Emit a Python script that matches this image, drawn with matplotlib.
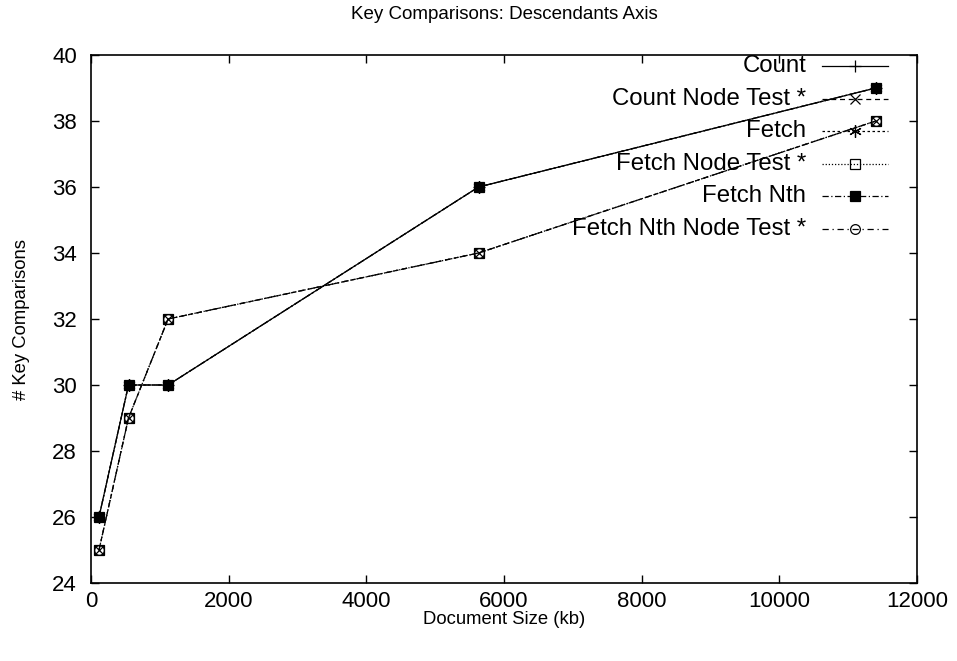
import matplotlib
matplotlib.use("Agg")
import matplotlib.pyplot as plt

plt.rcParams['font.family'] = ['Liberation Sans', 'DejaVu Sans']

# document sizes (kb) and key comparison counts
doc_size = [116, 545, 1120, 5630, 11400]
count = [26, 30, 30, 36, 39]
count_node_test = [25, 29, 32, 34, 38]
fetch = [26, 30, 30, 36, 39]
fetch_node_test = [25, 29, 32, 34, 38]
fetch_nth = [26, 30, 30, 36, 39]
fetch_nth_node_test = [25, 29, 32, 34, 38]

labels = ['Count', 'Count Node Test *', 'Fetch', 'Fetch Node Test *',
          'Fetch Nth', 'Fetch Nth Node Test *']
series = [count, count_node_test, fetch, fetch_node_test,
          fetch_nth, fetch_nth_node_test]

# gnuplot-ish line / point types
styles = [
    dict(ls='-', marker='+', mfc='none', ms=9),
    dict(ls=(0, (4, 3)), marker='x', mfc='none', ms=7),
    dict(ls=(0, (2, 2)), marker=(6, 2, 0), mfc='none', ms=9),
    dict(ls=(0, (1, 1.5)), marker='s', mfc='none', ms=7),
    dict(ls=(0, (5, 2, 1, 2)), marker='s', mfc='black', ms=7),
    dict(ls=(0, (5, 3, 1, 3)), marker='o', mfc='none', ms=7),
]

fig = plt.figure(figsize=(9.57, 6.61), dpi=100)
ax = fig.add_axes([91 / 957, 1 - 583 / 661, 826 / 957, 528 / 661])

for y, lab, st in zip(series, labels, styles):
    ax.plot(doc_size, y, color='black', lw=0.9, mew=0.9, label=lab, **st)

ax.set_xlim(0, 12000)
ax.set_ylim(24, 40)
ax.set_xticks(range(0, 12001, 2000))
ax.set_yticks(range(24, 41, 2))
ax.tick_params(direction='in', length=6, width=1, top=True, right=True,
               labelsize=16)
ax.tick_params(axis='y', pad=10)
ax.tick_params(axis='x', pad=6)
for sp in ax.spines.values():
    sp.set_linewidth(1.2)

ax.set_title('Key Comparisons: Descendants Axis', fontsize=13.5, pad=26)
ax.set_xlabel('Document Size (kb)', fontsize=13.3, va='center')
ax.xaxis.set_label_coords(0.5, -(619 - 583) / 528)
ax.set_ylabel('# Key Comparisons', fontsize=13.3, labelpad=16)

# key: right-aligned text with the line sample to its right
y0 = 0.979
dy = 32.6 / 528
for i, (lab, st) in enumerate(zip(labels, styles)):
    yy = y0 - i * dy
    ax.text(0.866, yy, lab, transform=ax.transAxes, ha='right', va='center',
            fontsize=17.3)
    ax.plot([0.885, 0.965], [yy, yy], transform=ax.transAxes, color='black',
            lw=0.9, ls=st['ls'], clip_on=False)
    ax.plot([0.925], [yy], transform=ax.transAxes, color='black', ls='none',
            marker=st['marker'], mfc=st['mfc'], ms=st['ms'], mew=0.9,
            clip_on=False)

fig.savefig('out.png', dpi=100)
